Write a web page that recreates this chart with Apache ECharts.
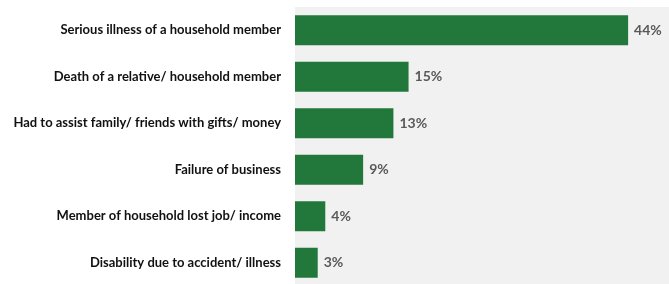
<!DOCTYPE html>
<html>
<head>
<meta charset="utf-8">
<script src="https://cdn.jsdelivr.net/npm/echarts@6/dist/echarts.min.js"></script>
<style>
  html, body { margin: 0; padding: 0; background: #fff; }
  #chart { width: 669px; height: 284px; }
</style>
</head>
<body>
<div id="chart"></div>
<script>
  // categories top to bottom
  const categories = [
    'Serious illness of a household member',
    'Death of a relative/ household member',
    'Had to assist family/ friends with gifts/ money',
    'Failure of business',
    'Member of household lost job/ income',
    'Disability due to accident/ illness'
  ];
  const shares = [44, 15, 13, 9, 4, 3];

  const fontFamily = '"Liberation Sans Narrow", Lato, "Open Sans", sans-serif';
  const chart = echarts.init(document.getElementById('chart'));
  chart.setOption({
    animation: false,
    grid: {
      show: true,
      left: 295,
      right: 0,
      top: 7,
      height: 279,
      outerBoundsMode: 'none',
      containLabel: false,
      backgroundColor: '#f1f1f1',
      borderWidth: 0
    },
    xAxis: {
      type: 'value',
      min: 0,
      max: 49.4,
      show: false
    },
    yAxis: {
      type: 'category',
      inverse: true,
      data: categories,
      axisLine: { show: false },
      axisTick: { show: false },
      axisLabel: {
        margin: 14,
        color: '#111',
        fontWeight: 'bold',
        fontSize: 13,
        fontFamily: fontFamily
      }
    },
    series: [{
      type: 'bar',
      data: shares,
      barWidth: 30,
      itemStyle: { color: '#22773a' },
      label: {
        show: true,
        position: 'right',
        distance: 6,
        formatter: '{c}%',
        color: '#595959',
        fontWeight: 'bold',
        fontSize: 14,
        fontFamily: fontFamily
      }
    }]
  });
</script>
</body>
</html>
